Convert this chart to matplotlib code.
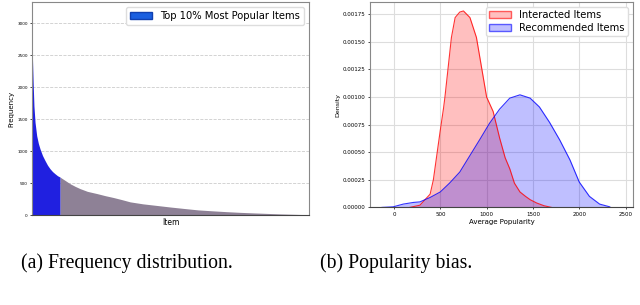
import matplotlib
matplotlib.use('Agg')
import matplotlib.pyplot as plt
from matplotlib.patches import Patch

# (a) item frequency, items sorted by popularity (x = rank as % of items)
item_pct = [0, 0.2, 0.4, 0.7, 1.1, 1.7, 2.3, 2.9, 3.8, 4.7, 5.6, 6.5, 7.4, 8.3, 9.2, 10.1,
            12, 13.7, 15.5, 17.3, 20, 23.4, 26.5, 29.4, 32.5, 35.4, 40, 45, 50, 55,
            60, 65, 70, 75, 80, 85, 90, 95, 100]
item_freq = [2750, 2400, 2090, 1705, 1450, 1240, 1120, 1034, 930, 852, 780, 724, 680, 646, 615, 594,
             540, 491, 450, 414, 370, 336, 302, 274, 240, 206, 175, 150, 125, 102,
             80, 66, 53, 42, 33, 25, 17, 11, 5]
top_cut = 10.1

# (b) density of average popularity
inter_x = [170, 280, 390, 425, 460, 500, 535, 550, 585, 620, 660, 710, 750, 820, 890, 945, 1000,
           1070, 1140, 1200, 1250, 1300, 1360, 1420, 1470, 1540, 1620, 1700]
inter_y = [0, 0.00002, 0.00012, 0.00025, 0.00046, 0.0007, 0.0009, 0.001, 0.00127, 0.00154, 0.00172,
           0.00177, 0.00178, 0.00172, 0.00154, 0.00127, 0.001, 0.00087, 0.00063, 0.00045, 0.00035,
           0.00022, 0.00014, 0.0001, 0.00007, 0.00004, 0.000015, 0]
rec_x = [-130, -10, 100, 210, 280, 390, 500, 600, 710, 820, 930, 1030, 1140, 1250, 1360, 1470,
         1570, 1680, 1790, 1900, 2000, 2110, 2220, 2330]
rec_y = [0, 0.000005, 0.00003, 0.000045, 0.00005, 0.00009, 0.00014, 0.00022, 0.00032, 0.00047,
         0.00062, 0.00076, 0.00089, 0.00099, 0.00102, 0.00099, 0.00091, 0.00077, 0.00061, 0.00043,
         0.00023, 0.0001, 0.00003, 0.000005]

fig = plt.figure(figsize=(6.4, 3.05), dpi=100)

# ---- left panel
ax1 = fig.add_axes([0.05, 0.295, 0.4328, 0.698])
head = [i for i, p in enumerate(item_pct) if p <= top_cut]
tail = [i for i, p in enumerate(item_pct) if p >= top_cut]
ax1.fill_between([item_pct[i] for i in tail], [item_freq[i] for i in tail], 0,
                 color='#8e8196', lw=0)
ax1.fill_between([item_pct[i] for i in head], [item_freq[i] for i in head], 0,
                 color='#2020e0', lw=0)
ax1.set_xlim(0, 100)
ax1.set_ylim(0, 3330)
ax1.set_yticks([0, 500, 1000, 1500, 2000, 2500, 3000])
ax1.set_xticks([])
ax1.tick_params(axis='y', labelsize=3, length=1.5, width=0.5, pad=1.5)
ax1.grid(axis='y', linestyle='--', color='#cccccc', lw=0.6)
ax1.set_axisbelow(True)
ax1.set_ylabel('Frequency', fontsize=5, labelpad=2)
ax1.set_xlabel('Item', fontsize=5.5, labelpad=2)
for s in ax1.spines.values():
    s.set_color('#888888')
    s.set_linewidth(0.8)
ax1.spines['bottom'].set_color('#444444')
ax1.legend(handles=[Patch(facecolor='#1a5fe0', edgecolor='#1040b0', label='Top 10% Most Popular Items')],
           loc='upper right', fontsize=7.2, handlelength=2.2, handleheight=0.6,
           borderpad=0.4, framealpha=1, edgecolor='#dddddd', fancybox=True)

# ---- right panel
ax2 = fig.add_axes([0.578, 0.32, 0.411, 0.673])
ax2.fill_between(inter_x, inter_y, 0, color='red', alpha=0.25, lw=0)
ax2.plot(inter_x, inter_y, color='red', lw=0.8, alpha=0.8)
ax2.fill_between(rec_x, rec_y, 0, color='blue', alpha=0.25, lw=0)
ax2.plot(rec_x, rec_y, color='blue', lw=0.8, alpha=0.8)
ax2.set_xlim(-260, 2580)
ax2.set_ylim(0, 0.00186)
ax2.set_xticks([0, 500, 1000, 1500, 2000, 2500])
ax2.set_yticks([0, 0.00025, 0.0005, 0.00075, 0.001, 0.00125, 0.0015, 0.00175])
ax2.set_yticklabels(['0.00000', '0.00025', '0.00050', '0.00075', '0.00100',
                     '0.00125', '0.00150', '0.00175'])
ax2.tick_params(labelsize=4, length=1.5, width=0.5, pad=1.5)
ax2.grid(True, color='#dddddd', lw=0.8)
ax2.set_axisbelow(True)
ax2.set_xlabel('Average Popularity', fontsize=5, labelpad=1.5)
ax2.set_ylabel('Density', fontsize=4.5, labelpad=2)
for s in ax2.spines.values():
    s.set_color('#888888')
    s.set_linewidth(0.8)
ax2.spines['bottom'].set_color('#444444')
ax2.legend(handles=[Patch(facecolor=(1, 0, 0, 0.25), edgecolor=(1, 0, 0, 0.6), label='Interacted Items'),
                    Patch(facecolor=(0, 0, 1, 0.25), edgecolor=(0, 0, 1, 0.6), label='Recommended Items')],
           loc='upper right', fontsize=7.2, handlelength=2.2, handleheight=0.6,
           borderpad=0.3, labelspacing=0.3, framealpha=1, edgecolor='#dddddd')

# captions
fig.text(127 / 640, 1 - 263 / 305, '(a) Frequency distribution.', ha='center', va='center',
         fontsize=14.2, family='Liberation Serif')
fig.text(396 / 640, 1 - 263 / 305, '(b) Popularity bias.', ha='center', va='center',
         fontsize=14.2, family='Liberation Serif')

fig.savefig('out.png', dpi=100)
